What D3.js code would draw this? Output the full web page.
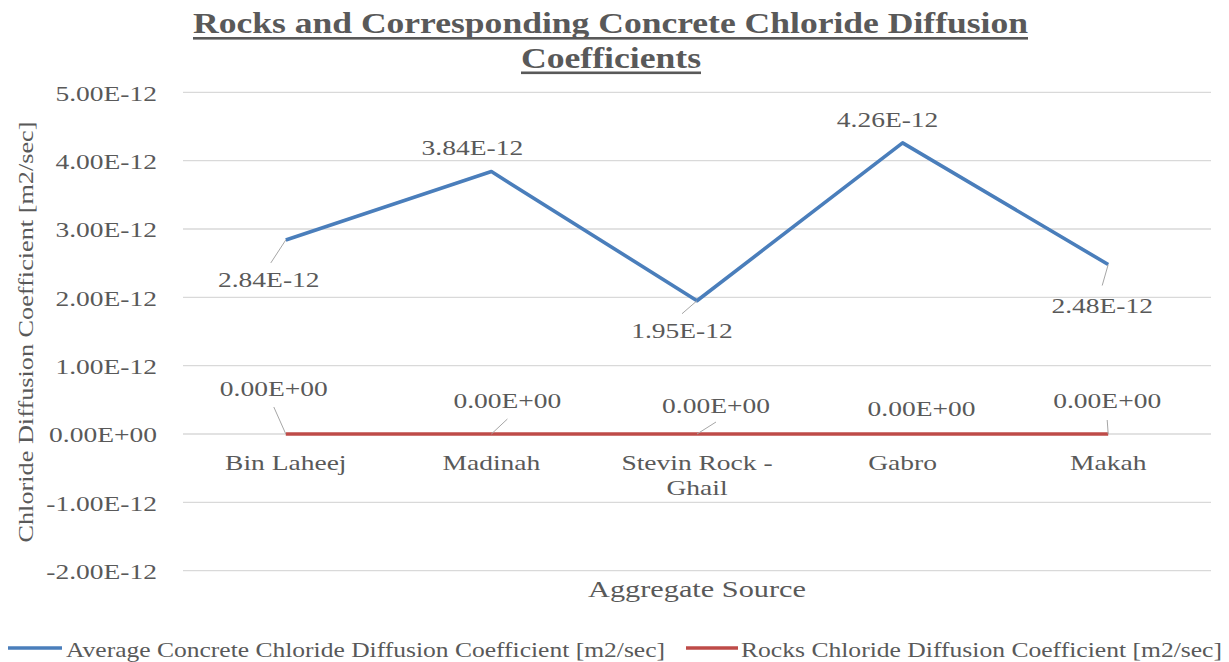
<!DOCTYPE html>
<html>
<head>
<meta charset="utf-8">
<script src="https://cdn.jsdelivr.net/npm/d3@7"></script>
<style>
  body { margin: 0; background: #fff; }
  text { font-family: "Liberation Serif", "Times New Roman", serif; fill: #595959; }
</style>
</head>
<body>
<div id="chart"></div>
<script>
// data
var categories = ["Bin Laheej", "Madinah", "Stevin Rock - Ghail", "Gabro", "Makah"];
var concreteValues = [2.84e-12, 3.84e-12, 1.95e-12, 4.26e-12, 2.48e-12];
var rockValues = [0, 0, 0, 0, 0];
var yTicks = [-2e-12, -1e-12, 0, 1e-12, 2e-12, 3e-12, 4e-12, 5e-12];
var seriesNames = ["Average Concrete Chloride Diffusion Coefficient [m2/sec]",
                   "Rocks Chloride Diffusion Coefficient [m2/sec]"];

// label placement (offsets from the point: text dx/dy, leader end or null)
var concreteLabelPos = [[-17, 47, -15, 23], [-19, -17, null], [-15, 37, -15, 13], [-15, -16, null], [-6, 48, -6, 21]];
var rockLabelPos = [[-12, -38, -12, -27], [16, -26, 16, -15], [19, -21, 19, -12], [19, -18, null], [-1, -26, -1, -14]];

var margin = {top: 92.3, left: 183, right: 18},
    width = 1229 - margin.left - margin.right,
    height = 570.7 - 92.3;

var svg = d3.select("#chart")
  .append("svg")
    .attr("width", 1229)
    .attr("height", 662);

svg.append("rect").attr("width", 1229).attr("height", 662).attr("fill", "#fff");

var g = svg.append("g")
    .attr("transform", "translate(" + margin.left + "," + margin.top + ")");

// the picture's text runs wide, stretch it horizontally
var SX = 1.25;

function sci(v) {
  var s = d3.format(".2e")(v).replace("\u2212", "-").toUpperCase();
  var m = s.match(/^(-?[\d.]+)E([+-])(\d+)$/);
  var exp = m[3].length < 2 ? "0" + m[3] : m[3];
  return m[1] + "E" + m[2] + exp;
}

var x = d3.scaleBand()
  .domain(categories)
  .range([0, width]);

var y = d3.scaleLinear()
  .domain([-2e-12, 5e-12])
  .range([height, 0]);

function cx(d) { return x(d) + x.bandwidth() / 2; }

// gridlines
g.selectAll(".grid")
  .data(yTicks)
  .enter()
  .append("line")
    .attr("x1", 0)
    .attr("x2", width)
    .attr("y1", function(d) { return y(d); })
    .attr("y2", function(d) { return y(d); })
    .attr("stroke", "#d9d9d9")
    .attr("stroke-width", 1.3);

// y axis, labels only
var yAxis = g.append("g")
  .call(d3.axisLeft(y).tickValues(yTicks).tickFormat(sci).tickSize(0).tickPadding(26));
yAxis.select(".domain").remove();
yAxis.selectAll("text")
  .attr("class", "wide")
  .style("font-family", "Liberation Serif")
  .style("font-size", "22px")
  .style("fill", "#595959")
  .attr("dy", "0.35em");

// x axis at zero
var xAxis = g.append("g")
  .attr("transform", "translate(0," + y(0) + ")")
  .call(d3.axisBottom(x).tickSize(0).tickPadding(0));
xAxis.select(".domain").remove();
xAxis.selectAll("text").remove();
xAxis.selectAll(".tick").each(function(d) {
  var tick = d3.select(this);
  var lines = d === "Stevin Rock - Ghail" ? ["Stevin Rock -", "Ghail"] : [d];
  lines.forEach(function(l, i) {
    tick.append("text")
      .attr("class", "wide")
      .attr("x", 0)
      .attr("y", 36 + i * 25)
      .attr("text-anchor", "middle")
      .style("font-family", "Liberation Serif")
      .style("font-size", "22px")
      .style("fill", "#595959")
      .text(l);
  });
});

// lines
var line = d3.line()
  .x(function(d, i) { return cx(categories[i]); })
  .y(function(d) { return y(d); });

g.append("path")
  .datum(concreteValues)
  .attr("fill", "none")
  .attr("stroke", "#4a7ebb")
  .attr("stroke-width", 3.6)
  .attr("stroke-linejoin", "round")
  .attr("d", line);

g.append("path")
  .datum(rockValues)
  .attr("fill", "none")
  .attr("stroke", "#be4b48")
  .attr("stroke-width", 3.6)
  .attr("d", line);

// data labels with leader lines
function labels(values, pos) {
  values.forEach(function(v, i) {
    var px = cx(categories[i]), py = y(v), p = pos[i];
    if (p[2] !== null) {
      g.append("line")
        .attr("x1", px).attr("y1", py)
        .attr("x2", px + p[2]).attr("y2", py + p[3])
        .attr("stroke", "#a6a6a6")
        .attr("stroke-width", 1);
    }
    g.append("text")
      .attr("class", "wide")
      .attr("x", px + p[0])
      .attr("y", py + p[1])
      .attr("text-anchor", "middle")
      .style("font-size", "22px")
      .text(sci(v));
  });
}
labels(concreteValues, concreteLabelPos);
labels(rockValues, rockLabelPos);

// titles
var title = svg.append("g");
title.append("text")
  .attr("x", 610.5).attr("y", 33)
  .attr("text-anchor", "middle")
  .attr("textLength", 835)
  .attr("lengthAdjust", "spacingAndGlyphs")
  .style("font-size", "29px")
  .style("font-weight", "bold")
  .text("Rocks and Corresponding Concrete Chloride Diffusion");
title.append("rect").attr("x", 193).attr("y", 37).attr("width", 835).attr("height", 2.6).attr("fill", "#595959");
title.append("text")
  .attr("x", 611).attr("y", 67.5)
  .attr("text-anchor", "middle")
  .attr("textLength", 180)
  .attr("lengthAdjust", "spacingAndGlyphs")
  .style("font-size", "29px")
  .style("font-weight", "bold")
  .text("Coefficients");
title.append("rect").attr("x", 521).attr("y", 71.5).attr("width", 180).attr("height", 2.6).attr("fill", "#595959");

svg.append("text")
  .attr("x", 697).attr("y", 597)
  .attr("text-anchor", "middle")
  .attr("textLength", 218)
  .attr("lengthAdjust", "spacingAndGlyphs")
  .style("font-size", "23px")
  .text("Aggregate Source");

svg.append("text")
  .attr("transform", "translate(33,332) rotate(-90)")
  .attr("text-anchor", "middle")
  .attr("textLength", 421)
  .attr("lengthAdjust", "spacingAndGlyphs")
  .style("font-size", "22px")
  .text("Chloride Diffusion Coefficient [m2/sec]");

// legend
var legendColors = ["#4a7ebb", "#be4b48"];
var legendX = [[8, 62, 66, 599], [686, 738, 741, 481]];
seriesNames.forEach(function(name, i) {
  var lx = legendX[i];
  svg.append("line")
    .attr("x1", lx[0]).attr("x2", lx[1])
    .attr("y1", 648).attr("y2", 648)
    .attr("stroke", legendColors[i])
    .attr("stroke-width", 3.6);
  svg.append("text")
    .attr("x", lx[2]).attr("y", 657)
    .attr("textLength", lx[3])
    .attr("lengthAdjust", "spacingAndGlyphs")
    .style("font-size", "22px")
    .text(name);
});

// widen the rest of the text to match
svg.selectAll("text.wide").each(function() {
  var w = this.getComputedTextLength();
  d3.select(this).attr("textLength", w * SX).attr("lengthAdjust", "spacingAndGlyphs");
});
</script>
</body>
</html>
